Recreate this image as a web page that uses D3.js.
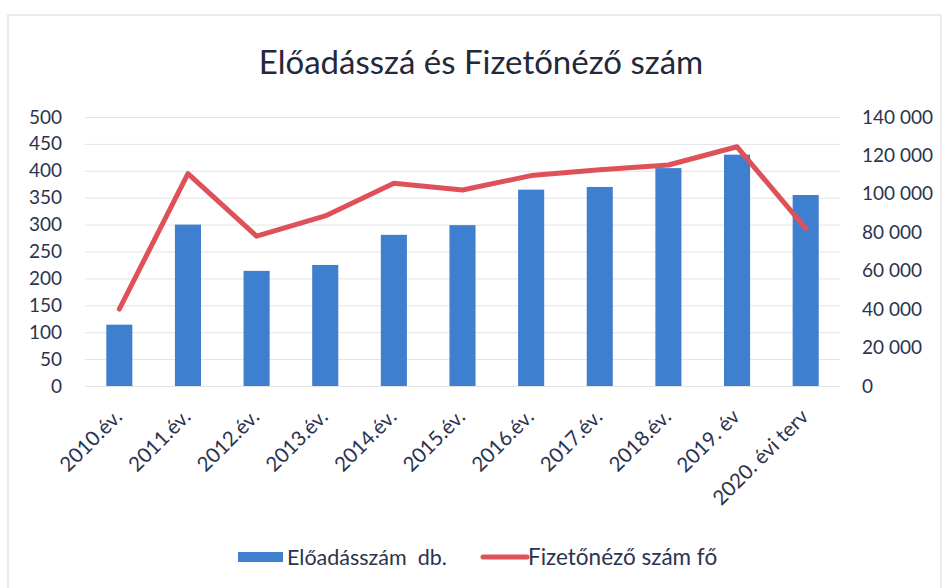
<!DOCTYPE html>
<html>
<head>
<meta charset="utf-8">
<script src="https://cdn.jsdelivr.net/npm/d3@7"></script>
<style>
  body { margin: 0; background: #fff; }
  svg { display: block; font-family: Lato, "Open Sans", sans-serif; }
</style>
</head>
<body>
<div id="chart"></div>
<script>
// Data
const categories = ["2010.év.", "2011.év.", "2012.év.", "2013.év.", "2014.év.", "2015.év.",
  "2016.év.", "2017.év.", "2018.év.", "2019. év", "2020. évi terv"];
const eloadasszam = [114, 300, 214, 225, 281, 299, 365, 370, 405, 430, 355];
const fizetonezo = [40000, 110500, 78000, 88500, 105500, 102000, 109500, 112500, 115000, 124500, 82000];
const leftTicks = [0, 50, 100, 150, 200, 250, 300, 350, 400, 450, 500];
const rightTicks = [0, 20000, 40000, 60000, 80000, 100000, 120000, 140000];

const W = 947, H = 588;
const margin = { top: 117, right: 107, bottom: 202, left: 85 };
const width = W - margin.left - margin.right;
const height = H - margin.top - margin.bottom;

const textColor = "#2b3350";
const barColor = "#3f7fd0";
const lineColor = "#de5158";

const svg = d3.select("#chart").append("svg")
  .attr("width", W)
  .attr("height", H);

// faint chart border
svg.append("rect")
  .attr("x", 8).attr("y", 15)
  .attr("width", W - 14).attr("height", H)
  .attr("fill", "none")
  .attr("stroke", "#d8d8d8")
  .attr("stroke-width", 1);

// Title
svg.append("text")
  .attr("x", 481)
  .attr("y", 74)
  .attr("text-anchor", "middle")
  .attr("fill", "#23283a")
  .style("font-size", "33px")
  .text("Előadásszá és Fizetőnéző szám");

const g = svg.append("g")
  .attr("transform", `translate(${margin.left},${margin.top})`);

const x = d3.scaleBand()
  .domain(categories)
  .range([0, width])
  .paddingInner(0.62)
  .paddingOuter(0.31);

const yLeft = d3.scaleLinear().domain([0, 500]).range([height, 0]);
const yRight = d3.scaleLinear().domain([0, 140000]).range([height, 0]);

const huFormat = d3.formatLocale({ decimal: ",", thousands: " ", grouping: [3], currency: ["", " Ft"] }).format(",");

// grid lines
g.append("g")
  .attr("class", "grid")
  .call(d3.axisLeft(yLeft).tickValues(leftTicks).tickSize(-width).tickFormat(""))
  .call(s => s.select(".domain").remove())
  .selectAll(".tick line")
  .attr("stroke", "#e3e3e6")
  .attr("stroke-width", 1);

// left axis labels
g.append("g")
  .call(d3.axisLeft(yLeft).tickValues(leftTicks).tickSize(0).tickPadding(23))
  .call(s => s.select(".domain").remove())
  .selectAll("text")
  .attr("fill", textColor)
  .style("font-size", "19px")
  .style("font-family", "Lato, sans-serif");

// right axis labels
g.append("g")
  .attr("transform", `translate(${width},0)`)
  .call(d3.axisRight(yRight).tickValues(rightTicks).tickSize(0).tickPadding(22).tickFormat(huFormat))
  .call(s => s.select(".domain").remove())
  .selectAll("text")
  .attr("fill", textColor)
  .style("font-size", "19px")
  .style("font-family", "Lato, sans-serif");

// x axis labels, rotated
g.append("g")
  .attr("transform", `translate(0,${height})`)
  .call(d3.axisBottom(x).tickSize(0).tickPadding(0))
  .call(s => s.select(".domain").remove())
  .selectAll("text")
  .attr("fill", textColor)
  .style("font-size", "20.5px")
  .style("font-family", "Lato, sans-serif")
  .attr("text-anchor", "end")
  .attr("y", 0)
  .attr("dy", null)
  .attr("transform", "translate(4,32) rotate(-45)");

// bars
g.selectAll(".bar")
  .data(eloadasszam)
  .enter()
  .append("rect")
  .attr("class", "bar")
  .attr("x", (d, i) => x(categories[i]))
  .attr("y", d => yLeft(d))
  .attr("width", x.bandwidth())
  .attr("height", d => height - yLeft(d))
  .attr("fill", barColor);

// line
const line = d3.line()
  .x((d, i) => x(categories[i]) + x.bandwidth() / 2)
  .y(d => yRight(d));

g.append("path")
  .datum(fizetonezo)
  .attr("d", line)
  .attr("fill", "none")
  .attr("stroke", lineColor)
  .attr("stroke-width", 5)
  .attr("stroke-linejoin", "round")
  .attr("stroke-linecap", "round");

// legend
const legend = svg.append("g").attr("transform", "translate(0,557)");
legend.append("rect")
  .attr("x", 238).attr("y", -5)
  .attr("width", 45).attr("height", 10)
  .attr("fill", barColor);
legend.append("text")
  .attr("x", 287).attr("y", 0)
  .attr("dy", "0.35em")
  .attr("fill", textColor)
  .style("font-size", "21.5px")
  .style("white-space", "pre")
  .text("Előadásszám  db.");
legend.append("line")
  .attr("x1", 483).attr("x2", 527)
  .attr("y1", 0).attr("y2", 0)
  .attr("stroke", lineColor)
  .attr("stroke-width", 5)
  .attr("stroke-linecap", "round");
legend.append("text")
  .attr("x", 528).attr("y", 0)
  .attr("dy", "0.35em")
  .attr("fill", textColor)
  .style("font-size", "22.5px")
  .text("Fizetőnéző szám fő");
</script>
</body>
</html>
